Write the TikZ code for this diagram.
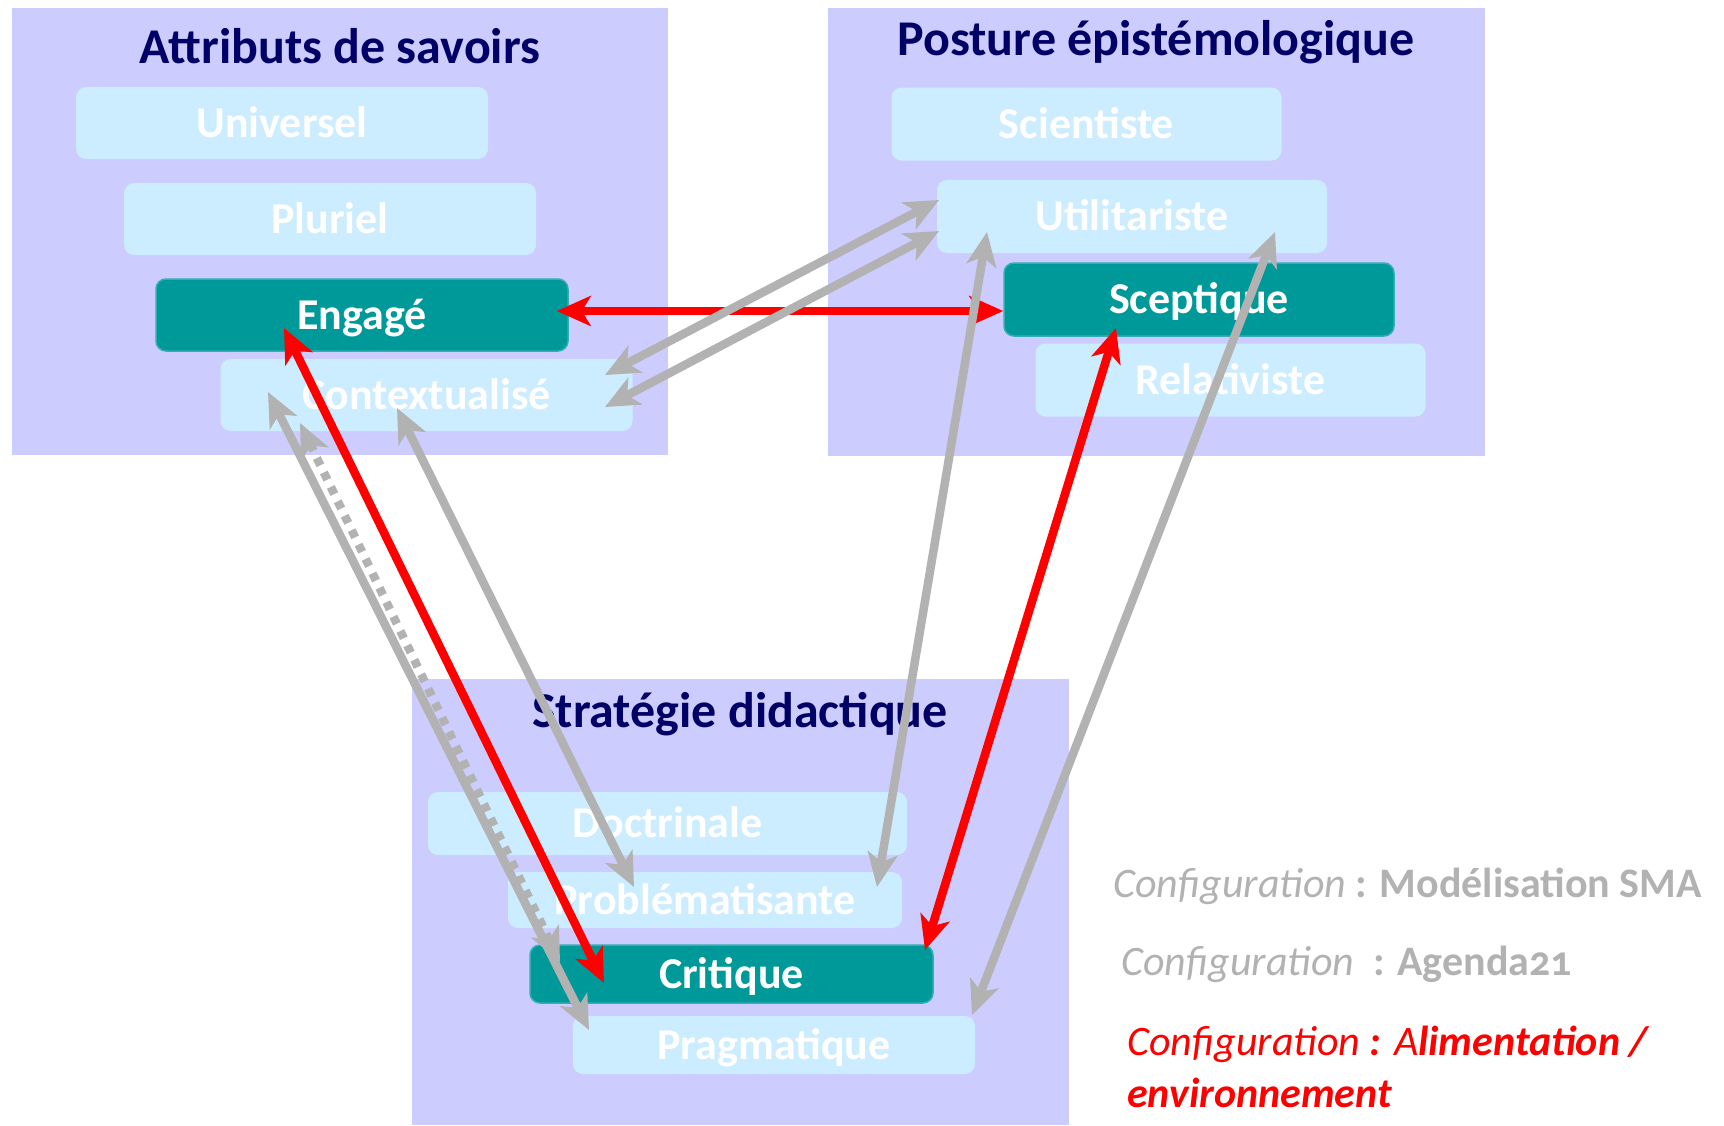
\documentclass[tikz,border=0pt]{standalone}
\usepackage{fontspec}
\setmainfont{Carlito}
\newfontfamily\oldfigs[Numbers=OldStyle]{Carlito}
\usetikzlibrary{arrows.meta,calc}

\definecolor{panelbg}{HTML}{CCCCFF}
\definecolor{itembg}{HTML}{CCECFF}
\definecolor{keybg}{HTML}{009999}
\definecolor{headcol}{HTML}{000066}
\definecolor{linkgray}{HTML}{B2B2B2}
\definecolor{linkred}{HTML}{FF0000}

\begin{document}
\begin{tikzpicture}[x=1pt,y=-1pt,
  panel/.style={fill=panelbg,draw=none},
  heading/.style={font=\fontsize{50}{60}\selectfont\bfseries,text=headcol,anchor=base,inner sep=0pt},
  item/.style={rectangle,rounded corners=10pt,fill=itembg,text=white,
    font=\fontsize{44}{52}\selectfont\bfseries,text height=28pt,text depth=0pt,inner sep=0pt},
  keyitem/.style={item,fill=keybg,draw=keybg!75!itembg,line width=1.5pt},
  leftsize/.style={minimum width=412pt,minimum height=72pt},
  rightsize/.style={minimum width=390pt,minimum height=73pt},
  tip/.tip={Stealth[length=34pt,width=30pt,inset=9pt]},
  link/.style={line width=8.5pt,tip-tip},
  redlink/.style={link,draw=linkred},
  graylink/.style={link,draw=linkgray},
  dottedlink/.style={graylink,dash pattern=on 8pt off 8pt},
  legend/.style={anchor=base west,inner sep=0pt,font=\fontsize{42}{50}\selectfont}
]
\useasboundingbox (0,0) rectangle (1724,1125);

% three panels
\fill[panel] (12,8) rectangle (668,455);
\fill[panel] (828,8) rectangle (1485,456);
\fill[panel] (412,679) rectangle (1069,1125);

\node[heading] (hleft) at (340,63) {Attributs de savoirs};
\node[heading] (hright) at (1156,55) {Posture épistémologique};
\node[heading] (hbottom) at (740,727) {Stratégie didactique};

% knowledge attributes
\node[item,leftsize] (universel) at (282,123) {Universel};
\node[item,leftsize] (pluriel) at (330,219) {Pluriel};
\node[keyitem,leftsize] (engage) at (362,315) {Engagé};
\node[item,leftsize] (context) at (426.5,395) {Contextualisé};

% epistemological stance
\node[item,rightsize] (scient) at (1086.5,124) {Scientiste};
\node[item,rightsize] (util) at (1132,216.5) {Utilitariste};
\node[keyitem,rightsize] (scept) at (1199,299.5) {Sceptique};
\node[item,rightsize] (relat) at (1230.5,380) {Relativiste};

% teaching strategy
\node[item,minimum width=479pt,minimum height=63pt] (doct) at (667.5,823.5) {Doctrinale};
\node[item,minimum width=394pt,minimum height=56pt] (probl) at (705,900) {Problématisante};
\node[keyitem,minimum width=403pt,minimum height=58pt] (crit) at (731.5,974) {Critique};
\node[item,minimum width=402pt,minimum height=58pt] (prag) at (774,1045) {Pragmatique};

% configuration: food / environment
\draw[redlink] ([shift={(-12,-4)}]engage.east) -- ([shift={(0,11.5)}]scept.west);
\draw[redlink] ([shift={(-78,13)}]engage.center) -- ([shift={(-127.5,9)}]crit.center);
\draw[redlink] ([shift={(-83,28.5)}]scept.center) -- ([shift={(193.5,-24)}]crit.center);

% configuration: SMA modelling
\draw[graylink] ([shift={(-193,-16.5)}]util.center) -- ([shift={(178.5,-20)}]context.center);
\draw[graylink] ([shift={(-145,15.5)}]util.center) -- ([shift={(172,-13)}]probl.center);
\draw[graylink] ([shift={(-29.5,13)}]context.center) -- ([shift={(-71,-13)}]probl.center);

% configuration: Agenda21
\draw[graylink] ([shift={(-193,14.5)}]util.center) -- ([shift={(178.5,12)}]context.center);
\draw[graylink] ([shift={(143,15.5)}]util.center) -- ([shift={(198,-30)}]prag.center);
\draw[graylink] ([shift={(-158.5,-3)}]context.center) -- ([shift={(-185,-15)}]prag.center);
\draw[dottedlink] ([shift={(-126.5,28)}]context.center) -- ([shift={(-171.5,-12)}]crit.center);

% legend
\node[legend,text=linkgray] (key1) at (1113,897)
  {\itshape Configuration\upshape\bfseries\ : Modélisation SMA};
\node[legend,text=linkgray] (key2) at (1121,975)
  {\itshape Configuration\upshape\ \ \bfseries: Agenda{\oldfigs 21}};
\node[legend,text=linkred] (key3) at (1127,1055)
  {\itshape Configuration {\bfseries:} A\bfseries limentation /};
\node[legend,text=linkred] (key4) at (1127,1107)
  {\itshape\bfseries environnement};
\end{tikzpicture}
\end{document}
